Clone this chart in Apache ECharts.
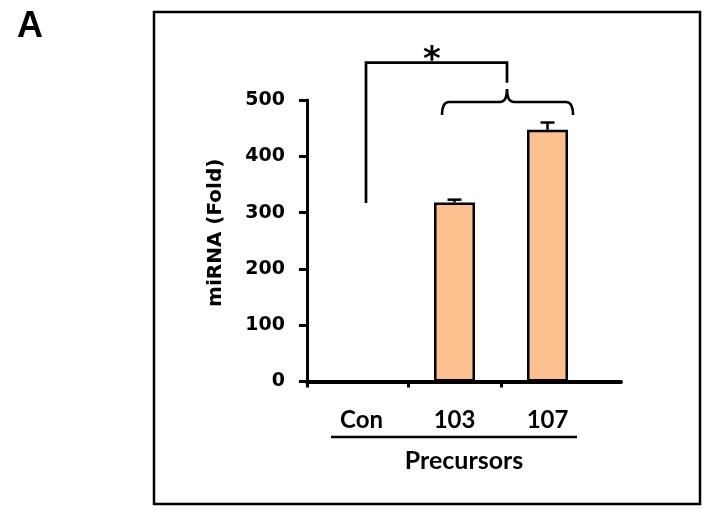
<!DOCTYPE html>
<html>
<head>
<meta charset="utf-8">
<script src="https://cdn.jsdelivr.net/npm/echarts@6/dist/echarts.min.js"></script>
<style>html,body{margin:0;padding:0;background:#fff}#c{width:709px;height:514px}</style>
</head>
<body>
<div id="c"></div>
<script>
var categories = ['Con', '103', '107'];
var values = [1, 318, 447];
var errors = [0, 5, 13];
var yTicks = [0, 100, 200, 300, 400, 500];
var yName = 'miRNA (Fold)';
var xName = 'Precursors';
var panelLabel = 'A';
var sigLabel = '*';

var barData = values.map(function (v, i) { return [i, v]; });
var errData = values.map(function (v, i) { return [i, v, errors[i]]; });

var chart = echarts.init(document.getElementById('c'), null, {renderer: 'canvas'});
var lblFont = 'Lato';
var ln = {stroke: '#000', lineWidth: 2.5, fill: 'none'};
function seg(x1, y1, x2, y2) { return {type: 'line', shape: {x1: x1, y1: y1, x2: x2, y2: y2}, style: ln, silent: true}; }
function crv(x1, y1, cx, cy, x2, y2) { return {type: 'bezierCurve', shape: {x1: x1, y1: y1, cpx1: cx, cpy1: cy, x2: x2, y2: y2}, style: ln, silent: true}; }
var opt = {
  animation: false,
  backgroundColor: '#fff',
  grid: {left: 307, top: 100, width: 314, height: 281.5, containLabel: false},
  xAxis: {
    type: 'value', min: -0.586, max: 2.79,
    splitLine: {show: false},
    axisLine: {show: true, onZero: false, lineStyle: {color: '#000', width: 4}},
    axisTick: {show: true, customValues: [-0.586, 0.5, 1.5], length: 6, lineStyle: {color: '#000', width: 3}},
    axisLabel: {
      customValues: [0, 1, 2], margin: 27,
      formatter: function (v) { return categories[Math.round(v)]; },
      color: '#000', fontFamily: lblFont, fontWeight: 'bold', fontSize: 24
    },
    name: xName, nameLocation: 'middle', nameGap: 67,
    nameTextStyle: {color: '#000', fontFamily: lblFont, fontWeight: 'bold', fontSize: 25}
  },
  yAxis: {
    type: 'value', min: yTicks[0], max: yTicks[yTicks.length - 1], interval: 100,
    splitLine: {show: false},
    axisLine: {show: true, onZero: false, lineStyle: {color: '#000', width: 3}},
    axisTick: {show: true, length: 8, lineStyle: {color: '#000', width: 3}},
    axisLabel: {margin: 22, color: '#000', fontFamily: 'DejaVu Sans', fontWeight: 'bold', fontSize: 19},
    name: yName, nameLocation: 'middle', nameGap: 81,
    nameTextStyle: {color: '#000', fontFamily: 'DejaVu Sans', fontWeight: 'bold', fontSize: 20, padding: [0, 0, 0, 16]}
  },
  series: [
    {
      type: 'bar', data: barData, barWidth: 41,
      itemStyle: {color: '#FCC08E', borderColor: '#000', borderWidth: 2.5}
    },
    {
      type: 'custom', data: errData, z: 3,
      renderItem: function (params, api) {
        var x = api.value(0), v = api.value(1), e = api.value(2);
        if (!e) return null;
        var p0 = api.coord([x, v]);
        var p1 = api.coord([x, v + e]);
        var st = {stroke: '#000', lineWidth: 2.5};
        return {type: 'group', children: [
          {type: 'line', shape: {x1: p0[0], y1: p0[1], x2: p1[0], y2: p1[1]}, style: st},
          {type: 'line', shape: {x1: p1[0] - 7, y1: p1[1], x2: p1[0] + 7, y2: p1[1]}, style: st}
        ]};
      }
    }
  ],
  graphic: [
    {type: 'rect', shape: {x: 154, y: 12, width: 546, height: 492}, style: {fill: 'none', stroke: '#000', lineWidth: 2.5}, silent: true},
    {type: 'text', x: 17, y: 27, style: {text: panelLabel, fill: '#000', font: 'bold 36px "Liberation Sans"', textVerticalAlign: 'middle'}},
    {type: 'polyline', shape: {points: [[366, 203], [366, 62.7], [507, 62.7], [507, 82.7]]}, style: {fill: 'none', stroke: '#000', lineWidth: 2.7}, silent: true},
    crv(442, 115, 442, 102, 449, 102),
    seg(449, 102, 500, 102),
    crv(500, 102, 507, 102, 507, 89),
    crv(507, 89, 507, 102, 514, 102),
    seg(514, 102, 566, 102),
    crv(566, 102, 573, 102, 573, 115),
    {type: 'text', x: 432, y: 61, style: {text: sigLabel, fill: '#000', font: 'bold 34px "DejaVu Sans"', textAlign: 'center', textVerticalAlign: 'middle'}},
    seg(331, 437, 577, 437)
  ]
};
chart.setOption(opt);
</script>
</body>
</html>
